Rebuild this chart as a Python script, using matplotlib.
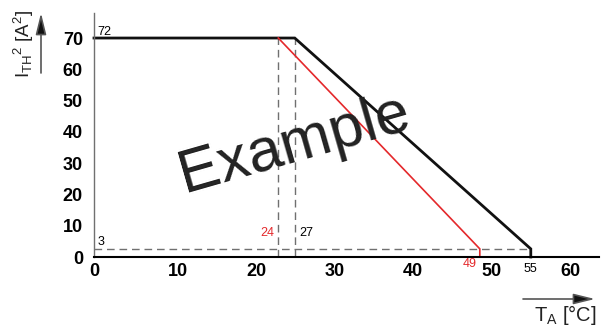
import matplotlib
matplotlib.use("Agg")
import matplotlib.pyplot as plt
from matplotlib.patches import FancyArrowPatch
from matplotlib.transforms import ScaledTranslation

# derating curve
black_x = [0, 24.9, 55.0, 55.0]
black_y = [70, 70, 2.6, 0]
red_x = [22.8, 48.5, 48.5]
red_y = [70, 2.6, 0]

x_ticks = [0, 10, 20, 30, 40, 50, 60]
y_ticks = [0, 10, 20, 30, 40, 50, 60, 70]

# value labels printed on the chart
lbl_top = "72"
lbl_low = "3"
lbl_red_knee = "24"
lbl_black_knee = "27"
lbl_red_end = "49"
lbl_black_end = "55"

RED = "#e4282b"
GREY = "#707070"

plt.rcParams["font.family"] = ["Liberation Sans", "DejaVu Sans"]
plt.rcParams["mathtext.fontset"] = "custom"
plt.rcParams["mathtext.rm"] = "Liberation Sans"
plt.rcParams["mathtext.it"] = "Liberation Sans"
plt.rcParams["mathtext.default"] = "regular"


def main():
    fig = plt.figure(figsize=(6.03, 3.26), dpi=100)
    ax = fig.add_axes([94 / 603, 69 / 326, 505 / 603, 244 / 326])
    ax.set_xlim(-0.7, 63.7)
    ax.set_ylim(0, 78)
    x0 = ax.get_xlim()[0]

    for s in ("top", "right"):
        ax.spines[s].set_visible(False)
    ax.spines["left"].set_color(GREY)
    ax.spines["left"].set_linewidth(1.0)
    ax.spines["bottom"].set_color("black")
    ax.spines["bottom"].set_linewidth(1.5)

    ax.set_xticks(x_ticks)
    ax.set_yticks(y_ticks)
    ax.tick_params(length=0, labelsize=13)
    ax.tick_params(axis="y", pad=8)
    ax.tick_params(axis="x", pad=4)
    for t in ax.get_xticklabels() + ax.get_yticklabels():
        t.set_fontweight("bold")
    # the "0" sits at the corner in the original, a bit left of its place
    first = ax.get_xticklabels()[0]
    first.set_transform(first.get_transform() + ScaledTranslation(-5 / 100, 0, fig.dpi_scale_trans))

    dash = dict(color=GREY, lw=1.0, dashes=(5.5, 3.5))
    # guide lines
    ax.plot([x0, black_x[2]], [black_y[2], black_y[2]], **dash)
    ax.plot([red_x[0], red_x[0]], [0, red_y[0]], **dash)
    ax.plot([black_x[1], black_x[1]], [0, black_y[1]], **dash)

    bx = [x0] + black_x[1:]
    ax.plot(bx, black_y, color="#111111", lw=2.0, solid_joinstyle="miter", clip_on=False)
    ax.plot(red_x, red_y, color=RED, lw=1.2, solid_joinstyle="miter")

    kw = dict(textcoords="offset points", fontsize=9)
    ax.annotate(lbl_top, (x0, black_y[0]), xytext=(2.5, 2.5), ha="left", va="baseline", **kw)
    ax.annotate(lbl_low, (x0, black_y[2]), xytext=(2.5, 2.5), ha="left", va="baseline", **kw)
    ax.annotate(lbl_red_knee, (red_x[0], 6.6), xytext=(-2.5, 0), ha="right",
                va="baseline", color=RED, **kw)
    ax.annotate(lbl_black_knee, (black_x[1], 6.6), xytext=(3.5, 0), ha="left",
                va="baseline", **kw)
    ax.annotate(lbl_red_end, (red_x[-1], 0), xytext=(-2, -1), ha="right",
                va="top", color=RED, **kw)
    ax.annotate(lbl_black_end, (black_x[-1], 0), xytext=(0, -4), ha="center",
                va="top", **kw)

    # axis titles with arrows
    fig.text(24 / 603, 282 / 326, r"$I_{TH}{}^{2}\ [A^{2}]$", rotation=90,
             ha="center", va="center", fontsize=13.5, color="#222222")
    fig.text(596 / 603, 5 / 326, r"$T_{A}$ [°C]", ha="right", va="baseline",
             fontsize=14.5, color="#222222")
    arrow = dict(arrowstyle="-|>,head_length=1.3,head_width=0.32", ec="#555555",
                 fc="#111111", lw=1.2, mutation_scale=10, shrinkA=0, shrinkB=0)
    fig.add_artist(FancyArrowPatch((41, 253), (41, 313), transform=None, **arrow))
    fig.add_artist(FancyArrowPatch((523, 27), (595, 27), transform=None, **arrow))

    fig.text(294 / 603, 181 / 326, "Example", rotation=16, rotation_mode="anchor",
             ha="center", va="center", fontsize=44, color="#222222")

    fig.savefig("out.png", dpi=100)


if __name__ == "__main__":
    main()
